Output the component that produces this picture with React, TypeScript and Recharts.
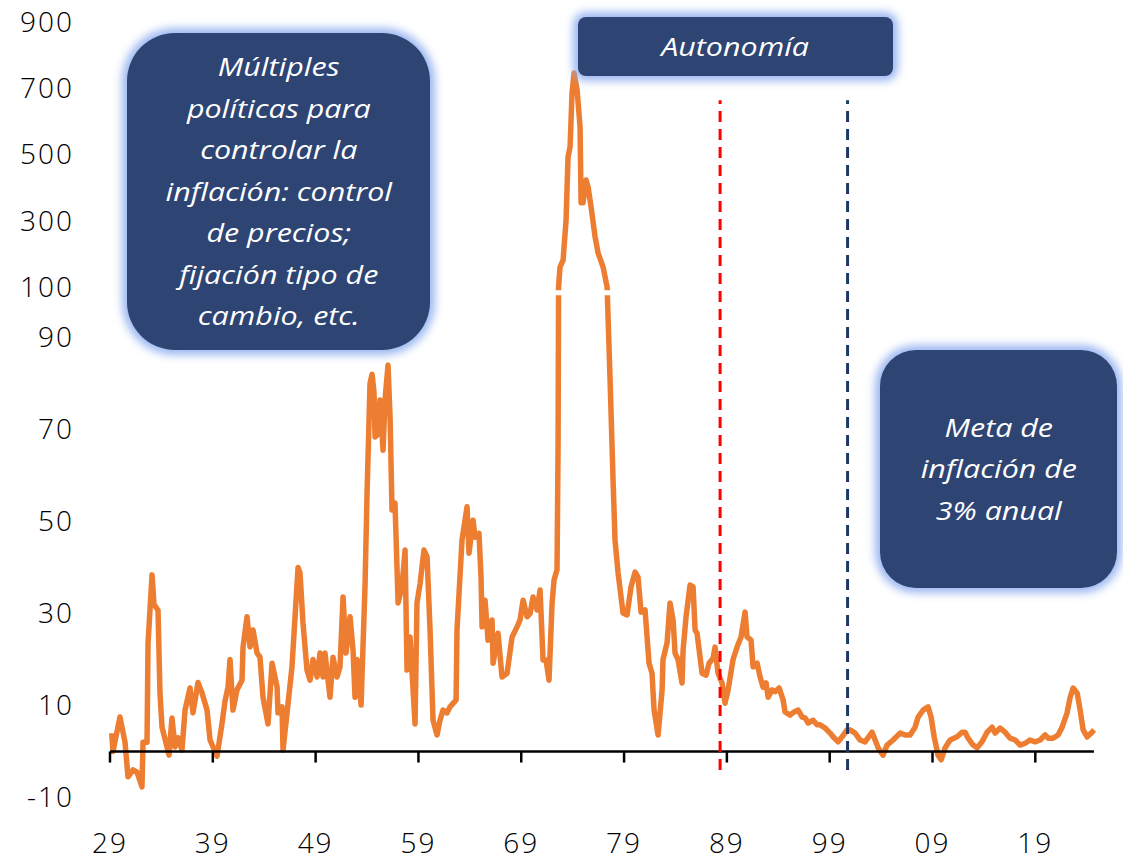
import { LineChart, Line, XAxis, YAxis, ReferenceLine, ReferenceArea } from 'recharts';

// inflación anual (%), [año, valor]
const years1929_1949: [number, number][] = [
  [1929.17, 4], [1929.29, 0], [1929.97, 7.5], [1930.46, 2], [1930.75, -5.5], [1931.24, -4],
  [1931.63, -4.5], [1932.11, -7.7], [1932.21, 2], [1932.6, 2], [1932.7, 23.5], [1933.09, 38.4],
  [1933.28, 32], [1933.67, 30.7], [1933.86, 12.7], [1934.06, 5.3], [1934.54, 1], [1934.74, -0.8],
  [1935.03, 7.3], [1935.32, 1], [1935.61, 3], [1936.0, 0.3], [1936.3, 9], [1936.78, 13.8],
  [1937.07, 8.4], [1937.56, 15], [1937.95, 12.7], [1938.44, 9], [1938.73, 2.5], [1939.41, -1],
  [1939.89, 6], [1940.19, 11], [1940.48, 14], [1940.67, 20], [1940.96, 9], [1941.35, 13.4],
  [1941.84, 15.5], [1941.94, 22.7], [1942.33, 29.3], [1942.62, 22.7], [1942.91, 26.4], [1943.3, 21.4],
  [1943.59, 20.5], [1943.88, 11.8], [1944.37, 6], [1944.76, 19.2], [1945.25, 14], [1945.34, 8.4],
  [1945.73, 9.7], [1945.83, 0.3], [1946.22, 8.4], [1946.7, 18.4], [1947.0, 29.3], [1947.29, 40],
  [1947.48, 38.8], [1947.77, 28], [1948.16, 17.7], [1948.46, 15.5], [1948.75, 20], [1949.14, 16.2],
];

const years1949_1972: [number, number][] = [
  [1949.43, 21.4], [1949.72, 16.2], [1949.91, 21.4], [1950.4, 11.8], [1950.69, 20.5], [1951.08, 16.2],
  [1951.37, 18.4], [1951.67, 33.6], [1951.96, 21.4], [1952.35, 29.3], [1952.64, 22], [1952.83, 11.8],
  [1953.03, 20], [1953.42, 10.1], [1953.81, 36.5], [1954.0, 56], [1954.29, 80], [1954.49, 82],
  [1954.68, 78], [1954.78, 68.4], [1955.07, 69], [1955.26, 76.4], [1955.56, 65.5], [1955.75, 76.4],
  [1956.04, 84], [1956.24, 72.7], [1956.43, 52.5], [1956.72, 54], [1957.02, 32.3], [1957.4, 35.8],
  [1957.7, 43.8], [1957.89, 17.7], [1958.18, 24.9], [1958.67, 6], [1958.86, 32.3], [1959.16, 36.5],
  [1959.54, 43.8], [1959.84, 42.3], [1960.13, 26.4], [1960.42, 6.8], [1960.81, 3.6], [1961.1, 6.8],
  [1961.39, 9], [1961.78, 8.4], [1962.07, 9.7], [1962.66, 11.2], [1962.75, 26.4], [1963.24, 46],
  [1963.73, 53.2], [1963.92, 43.1], [1964.31, 50.3], [1964.51, 46.6], [1964.89, 47.4], [1965.09, 37.9],
  [1965.19, 27.1], [1965.48, 32.9], [1965.77, 24.2], [1966.16, 28.6], [1966.26, 19.2], [1966.74, 25.7],
  [1967.13, 16.2], [1967.62, 17], [1968.11, 24.9], [1968.59, 27.1], [1968.88, 28.6], [1969.18, 32.9],
  [1969.56, 29.3], [1969.86, 30], [1970.15, 33.6], [1970.54, 30.8], [1970.83, 35.1], [1971.12, 19.9],
  [1971.41, 19.9], [1971.7, 15.5], [1972.0, 32.3], [1972.19, 37.3], [1972.48, 39.5],
];

const years1972_1988: [number, number][] = [
  [1972.58, 66], [1972.63, 100], [1972.77, 160], [1973.07, 181], [1973.36, 302], [1973.55, 492],
  [1973.75, 523], [1973.94, 686], [1974.14, 746], [1974.43, 695], [1974.72, 583], [1974.82, 354],
  [1975.01, 354], [1975.3, 423], [1975.5, 402], [1975.79, 342], [1976.18, 251], [1976.47, 203],
  [1976.96, 160], [1977.35, 100], [1977.64, 80.8], [1977.93, 59], [1978.12, 46], [1978.42, 38.8],
  [1978.9, 30.1], [1979.29, 29.7], [1979.68, 35.8], [1980.07, 39], [1980.36, 37.9], [1980.65, 30.3],
  [1981.04, 30.8], [1981.43, 19.2], [1981.72, 17], [1981.92, 9], [1982.31, 3.6], [1982.7, 13.4],
  [1982.79, 20], [1983.18, 23.6], [1983.47, 32.3], [1983.77, 28.6], [1983.96, 21.4], [1984.25, 20],
  [1984.64, 14.9], [1984.74, 22], [1985.03, 29.3], [1985.42, 36.2], [1985.71, 35.8], [1985.91, 26.4],
  [1986.1, 25.7], [1986.59, 17], [1986.98, 16.6], [1987.27, 19.2], [1987.66, 20.3], [1987.85, 22.7],
  [1988.14, 17],
];

const years1988_2005: [number, number][] = [
  [1988.53, 14.9], [1988.82, 10.5], [1989.12, 13.4], [1989.6, 20], [1989.99, 22.7], [1990.38, 24.9],
  [1990.77, 30.3], [1990.96, 24.9], [1991.35, 24.2], [1991.55, 18.4], [1991.94, 19.2], [1992.23, 16.2],
  [1992.52, 14], [1992.81, 14.9], [1993.01, 11.8], [1993.4, 13.4], [1993.69, 13], [1994.08, 13.8],
  [1994.47, 11.2], [1994.66, 8.6], [1995.15, 7.9], [1995.54, 8.6], [1995.93, 9], [1996.32, 7.5],
  [1996.61, 7.3], [1996.9, 6.2], [1997.39, 6.8], [1997.77, 5.8], [1998.07, 5.8], [1998.55, 5.1],
  [1999.04, 4], [1999.33, 3.2], [1999.82, 2.1], [2000.21, 3.2], [2000.69, 4.7], [2000.98, 4.7],
  [2001.47, 4], [2001.96, 2.5], [2002.44, 2.1], [2003.12, 4.2], [2003.42, 2.5], [2003.71, 0.8],
  [2004.19, -0.8], [2004.58, 1.4], [2005.17, 2.5],
];

const years2005_2024: [number, number][] = [
  [2005.85, 4], [2006.33, 3.6], [2006.82, 3.6], [2007.31, 5.3], [2007.6, 7.5], [2008.09, 9],
  [2008.57, 9.7], [2008.86, 7.5], [2009.16, 3.2], [2009.54, -0.8], [2009.84, -1.8], [2010.23, 0.8],
  [2010.71, 2.5], [2011.39, 3.2], [2011.88, 4.2], [2012.17, 4.2], [2012.46, 2.9], [2012.95, 1.4],
  [2013.34, 0.8], [2013.82, 2.1], [2014.31, 4.2], [2014.8, 5.3], [2015.09, 4], [2015.58, 5.1],
  [2016.06, 4.2], [2016.55, 2.9], [2017.04, 2.5], [2017.52, 1.4], [2018.01, 1.8], [2018.49, 2.5],
  [2018.98, 2.1], [2019.47, 2.5], [2019.95, 3.6], [2020.25, 2.9], [2020.73, 2.9], [2021.22, 3.6],
  [2021.61, 5.3], [2022.09, 8.4], [2022.39, 11.8], [2022.68, 13.8], [2023.07, 12.7], [2023.36, 9],
  [2023.65, 4.7], [2024.04, 3.2], [2024.43, 4], [2024.72, 4.7],
];

const yTickLabels = [-10, 10, 30, 50, 70, 90, 100, 300, 500, 700, 900];
const xTickYears = [1929, 1939, 1949, 1959, 1969, 1979, 1989, 1999, 2009, 2019];
const autonomyYear = 1988.34;
const targetYear = 2000.74;

// eje quebrado: lineal hasta 90, tramo 90-100, y comprimido sobre 100
function toDisplay(v: number) {
  if (v <= 90) return v;
  if (v <= 100) return 90 + (v - 90) * 1.1;
  return 101 + (v - 100) * 0.072;
}

const data = [...years1929_1949, ...years1949_1972, ...years1972_1988, ...years1988_2005, ...years2005_2024]
  .map(([year, value]) => ({ year, value, d: toDisplay(value) }));

const yTicks = yTickLabels.map(toDisplay);

const tickFont = { fontFamily: '"Open Sans", sans-serif', fontWeight: 300, fontSize: 28, fill: '#000', letterSpacing: 2 };

const boxStyle: React.CSSProperties = {
  position: 'absolute',
  background: '#2E4473',
  boxShadow: '0 0 9px 5px rgba(140,172,238,0.85)',
  color: '#fff',
  fontFamily: '"Open Sans", sans-serif',
  fontStyle: 'italic',
  fontSize: 26,
  lineHeight: '41.5px',
  textAlign: 'center',
  display: 'flex',
  alignItems: 'center',
  justifyContent: 'center',
};

function BoxText({ children }: { children: React.ReactNode }) {
  return <div style={{ transform: 'scaleX(1.17)', whiteSpace: 'pre-line' }}>{children}</div>;
}

export default function App() {
  return (
    <div style={{ position: 'absolute', left: 0, top: 0, width: 1123, height: 861, background: '#fff' }}>
      <LineChart width={1123} height={861} data={data} margin={{ top: 22, right: 26, left: 0, bottom: 0 }}>
        <XAxis
          dataKey="year"
          type="number"
          domain={[1929, 2025]}
          ticks={xTickYears}
          tickFormatter={(y: number) => String(y % 100).padStart(2, '0')}
          axisLine={false}
          tickLine={false}
          tickMargin={30}
          height={63.5}
          tick={tickFont}
          interval={0}
        />
        <YAxis
          type="number"
          domain={[-10, toDisplay(900)]}
          ticks={yTicks}
          tickFormatter={(d: number) => {
            const i = yTicks.findIndex(t => Math.abs(t - d) < 0.01);
            return i >= 0 ? String(yTickLabels[i]) : '';
          }}
          axisLine={false}
          tickLine={false}
          tickMargin={30}
          width={110}
          tick={tickFont}
          interval={0}
          allowDataOverflow
        />
        <Line
          type="linear"
          dataKey="d"
          stroke="#ED7D31"
          strokeWidth={5.5}
          dot={false}
          strokeLinejoin="round"
          isAnimationActive={false}
        />
        <ReferenceArea x1={1972.3} x2={1977.8} y1={99.2} y2={100.3} fill="#fff" fillOpacity={1} stroke="none" zIndex={1000} />
        <ReferenceLine segment={[{ x: 1929, y: 0 }, { x: 2024.7, y: 0 }]} stroke="#000" strokeWidth={2.5} zIndex={1000} />
        {xTickYears.map(y => (
          <ReferenceLine key={y} segment={[{ x: y, y: 0 }, { x: y, y: -2.4 }]} stroke="#000" strokeWidth={2.5} zIndex={1000} />
        ))}
        <ReferenceLine
          segment={[{ x: autonomyYear, y: -4 }, { x: autonomyYear, y: toDisplay(664) }]}
          stroke="#FF0000"
          strokeWidth={3}
          strokeDasharray="11 7"
          zIndex={1000}
        />
        <ReferenceLine
          segment={[{ x: targetYear, y: -4 }, { x: targetYear, y: toDisplay(664) }]}
          stroke="#1F3864"
          strokeWidth={3}
          strokeDasharray="11 7"
          zIndex={1000}
        />
      </LineChart>
      <div style={{ ...boxStyle, left: 127, top: 33, width: 303, height: 317, borderRadius: 48 }}>
        <BoxText>{'Múltiples\npolíticas para\ncontrolar la\ninflación: control\nde precios;\nfijación tipo de\ncambio, etc.'}</BoxText>
      </div>
      <div style={{ ...boxStyle, left: 578, top: 17, width: 315, height: 59, borderRadius: 8 }}>
        <BoxText>Autonomía</BoxText>
      </div>
      <div style={{ ...boxStyle, left: 880, top: 350, width: 237, height: 238, borderRadius: 36 }}>
        <BoxText>{'Meta de\ninflación de\n3% anual'}</BoxText>
      </div>
    </div>
  );
}
